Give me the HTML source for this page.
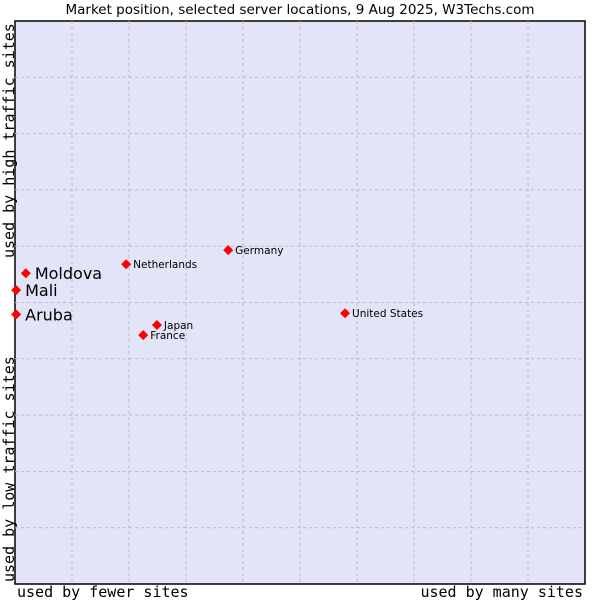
<!DOCTYPE html>
<html><head><meta charset="utf-8"><style>
body{margin:0;background:#fff;width:600px;height:600px;overflow:hidden}
svg text{fill:#000}
</style></head><body>
<svg id="chart" width="600" height="600" xmlns="http://www.w3.org/2000/svg">
<text x="300" y="14" text-anchor="middle" font-family="DejaVu Sans, sans-serif" font-size="13.5">Market position, selected server locations, 9 Aug 2025, W3Techs.com</text>
<rect x="15" y="21" width="570" height="563" fill="#e4e4f8" stroke="#000" stroke-width="1.5"/>
<g id="grid"></g>
<g id="points"></g>
<text x="17" y="597" font-family="DejaVu Sans Mono, monospace" font-size="15">used by fewer sites</text>
<text x="583" y="597" text-anchor="end" font-family="DejaVu Sans Mono, monospace" font-size="15">used by many sites</text>
<text transform="translate(14,582) rotate(-90)" font-family="DejaVu Sans Mono, monospace" font-size="15">used by low traffic sites</text>
<text transform="translate(14,258) rotate(-90)" font-family="DejaVu Sans Mono, monospace" font-size="15">used by high traffic sites</text>
</svg>
<script>
const names = ["Moldova","Mali","Aruba","Netherlands","Germany","Japan","France","United States"];
const xValues = [1.9,0.2,0.2,19.5,37.4,24.9,22.5,57.9];
const yValues = [55.2,52.2,47.9,56.8,59.3,46.0,44.2,48.1];
const bigLabel = [true,true,true,false,false,false,false,false];
const NS="http://www.w3.org/2000/svg";
const X0=15,X1=585,Y0=584,Y1=21;
const xs=v=>X0+v/100*(X1-X0);
const ys=v=>Y0-v/100*(Y0-Y1);
const grid=document.getElementById('grid');
for(let i=1;i<10;i++){
  const l=document.createElementNS(NS,'line');
  
  
  l.setAttribute('x1',xs(i*10));l.setAttribute('x2',xs(i*10));
  l.setAttribute('y1',Y1);l.setAttribute('y2',Y0);
  l.setAttribute('stroke','#bbb');l.setAttribute('stroke-dasharray','3,3');
  grid.appendChild(l);
  const h=document.createElementNS(NS,'line');
  
  
  h.setAttribute('x1',X0);h.setAttribute('x2',X1);
  h.setAttribute('y1',ys(i*10));h.setAttribute('y2',ys(i*10));
  h.setAttribute('stroke','#bbb');h.setAttribute('stroke-dasharray','3,3');
  grid.appendChild(h);
}
const pts=document.getElementById('points');
names.forEach((n,i)=>{
  const x=xs(xValues[i]),y=ys(yValues[i]);
  const d=document.createElementNS(NS,'path');
  
  
  d.setAttribute('d',`M${x-5},${y}L${x},${y-5}L${x+5},${y}L${x},${y+5}Z`);
  d.setAttribute('fill','#f00');
  pts.appendChild(d);
  const t=document.createElementNS(NS,'text');
  
  
  t.setAttribute('x',x+(bigLabel[i]?9:7));
  t.setAttribute('y',y+(bigLabel[i]?6:4));
  t.setAttribute('font-family','DejaVu Sans, sans-serif');
  t.setAttribute('font-size',bigLabel[i]?'16':'10.5');
  t.textContent=n;
  pts.appendChild(t);
});
</script>
</body></html>
